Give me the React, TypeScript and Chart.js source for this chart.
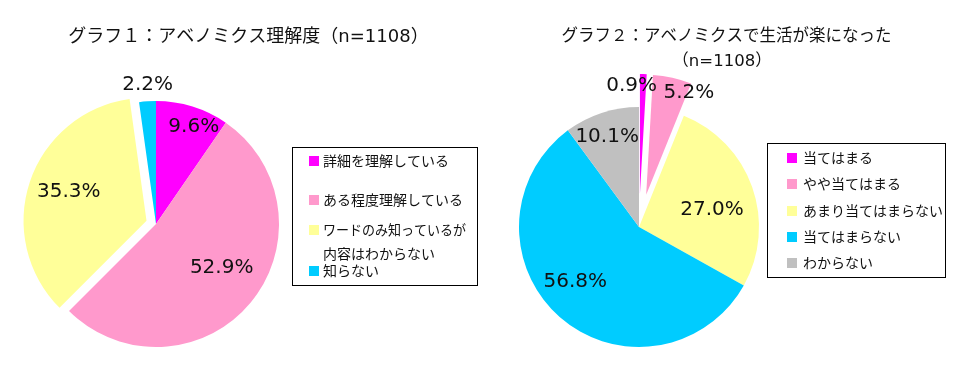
import React, { useEffect, useRef } from "react";
import { Chart, registerables } from "chart.js";

Chart.register(...registerables);

// ---- Data ----
const title1 = ["グラフ１：アベノミクス理解度（n=1108）"];
const labels1 = ["詳細を理解している", "ある程度理解している", "ワードのみ知っているが内容はわからない", "知らない"];
const values1 = [9.6, 52.9, 35.3, 2.2];
const colors1 = ["#FF00FF", "#FF99CC", "#FFFF99", "#00CCFF"];

const title2 = ["グラフ２：アベノミクスで生活が楽になった", "（n=1108）"];
const labels2 = ["当てはまる", "やや当てはまる", "あまり当てはまらない", "当てはまらない", "わからない"];
const values2 = [0.9, 5.2, 27.0, 56.8, 10.1];
const colors2 = ["#FF00FF", "#FF99CC", "#FFFF99", "#00CCFF", "#C0C0C0"];

// ---- Styles (canvas-local coordinates) ----
const style1 = {
  radius: 123,
  padding: { left: 0, right: 168, top: 78, bottom: 0 },
  explode: [0, 0, 10, 0],
  labelDist: [104, 79, 83, 139],
  labelShift: [4, -6, 1.8, 0.5],
  titleX: [248.5],
  titleY: [37],
  titleSize: 18,
  legendBox: [292, 147, 477, 285],
  markerX: 309,
  textX: 323,
  textMaxW: 143,
  rowY: [161, 200, 230, 271],
  lineH: 24,
  wrapW: 158,
};

const style2 = {
  radius: 120,
  padding: { left: 0, right: 162, top: 84, bottom: 0 },
  explode: [33, 33, 0, 0, 0],
  labelDist: [109, 111, 75, 84, 96],
  labelShift: [-6, 10, 6.3, 7.9, -1.2],
  titleX: [246.5, 242],
  titleY: [37, 62],
  titleSize: 16.5,
  legendBox: [287, 143, 465, 277],
  markerX: 307,
  textX: 323,
  textMaxW: 140,
  rowY: [158, 184, 210.5, 237, 263],
  lineH: 24,
  wrapW: 200,
};

const JP = '"Noto Sans CJK JP", "Noto Sans", sans-serif';
const TITLE = '"DejaVu Sans", "Noto Sans CJK JP", sans-serif';
const NUM = '"DejaVu Sans", "Noto Sans", sans-serif';

function explodePlugin(st: any) {
  return {
    id: "explodeSlices",
    afterDatasetsUpdate(chart: any) {
      const meta = chart.getDatasetMeta(0);
      meta.data.forEach((arc: any, i: number) => {
        const d = st.explode[i] || 0;
        if (!d) return;
        const mid = (arc.startAngle + arc.endAngle) / 2;
        arc.x += Math.cos(mid) * d;
        arc.y += Math.sin(mid) * d;
      });
    },
  };
}

function wrapText(ctx: CanvasRenderingContext2D, text: string, maxW: number): string[] {
  const lines: string[] = [];
  let cur = "";
  for (const ch of Array.from(text)) {
    const test = cur + ch;
    if (ctx.measureText(test).width > maxW && cur) {
      lines.push(cur);
      cur = ch;
    } else {
      cur = test;
    }
  }
  if (cur) lines.push(cur);
  return lines;
}

function decorPlugin(st: any, title: string[]) {
  return {
    id: "decor",
    afterDatasetsDraw(chart: any) {
      const ctx: CanvasRenderingContext2D = chart.ctx;
      const meta = chart.getDatasetMeta(0);
      const ds = chart.data.datasets[0];
      ctx.save();
      ctx.font = `20px ${NUM}`;
      ctx.fillStyle = "#111";
      ctx.textAlign = "center";
      ctx.textBaseline = "middle";
      meta.data.forEach((arc: any, i: number) => {
        const mid = (arc.startAngle + arc.endAngle) / 2 + (st.labelShift[i] * Math.PI) / 180;
        const r = st.labelDist[i];
        const x = arc.x + Math.cos(mid) * r;
        const y = arc.y + Math.sin(mid) * r;
        ctx.fillText(Number(ds.data[i]).toFixed(1) + "%", x, y);
      });
      ctx.restore();
    },
    afterDraw(chart: any) {
      const ctx: CanvasRenderingContext2D = chart.ctx;
      const ds = chart.data.datasets[0];
      const labels: string[] = chart.data.labels;
      ctx.save();
      ctx.font = `${st.titleSize}px ${TITLE}`;
      ctx.fillStyle = "#111";
      ctx.textAlign = "center";
      ctx.textBaseline = "middle";
      title.forEach((t, i) => ctx.fillText(t, st.titleX[i], st.titleY[i]));
      const [x0, y0, x1, y1] = st.legendBox;
      ctx.strokeStyle = "#000";
      ctx.lineWidth = 1;
      ctx.strokeRect(x0 + 0.5, y0 + 0.5, x1 - x0, y1 - y0);
      ctx.font = `14px ${JP}`;
      ctx.textAlign = "left";
      labels.forEach((lab, i) => {
        const y = st.rowY[i];
        ctx.fillStyle = ds.backgroundColor[i];
        ctx.fillRect(st.markerX, Math.round(y - 5), 10, 10);
        ctx.fillStyle = "#111";
        const lines = wrapText(ctx, lab, st.wrapW);
        lines.forEach((ln, k) => ctx.fillText(ln, st.textX, y + k * st.lineH, st.textMaxW));
      });
      ctx.restore();
    },
  };
}

function PieChart(props: { values: number[]; labels: string[]; colors: string[]; title: string[]; st: any; left: number }) {
  const ref = useRef<HTMLCanvasElement>(null);
  useEffect(() => {
    const { values, labels, colors, title, st } = props;
    const chart = new Chart(ref.current as HTMLCanvasElement, {
      type: "pie",
      data: {
        labels,
        datasets: [
          {
            data: values,
            backgroundColor: colors,
            borderWidth: 0,
            radius: st.radius,
          } as any,
        ],
      },
      options: {
        responsive: false,
        animation: false,
        events: [],
        layout: { padding: st.padding },
        plugins: {
          legend: { display: false },
          tooltip: { enabled: false },
          title: { display: false },
        },
      } as any,
      plugins: [explodePlugin(st), decorPlugin(st, title)],
    });
    return () => chart.destroy();
  }, []);
  return (
    <canvas
      ref={ref}
      width={480}
      height={370}
      style={{ position: "absolute", left: props.left, top: 0, width: 480, height: 370 }}
    />
  );
}

export default function App() {
  return (
    <div style={{ position: "absolute", left: 0, top: 0, width: 960, height: 370, background: "#fff" }}>
      <PieChart values={values1} labels={labels1} colors={colors1} title={title1} st={style1} left={0} />
      <PieChart values={values2} labels={labels2} colors={colors2} title={title2} st={style2} left={480} />
    </div>
  );
}
